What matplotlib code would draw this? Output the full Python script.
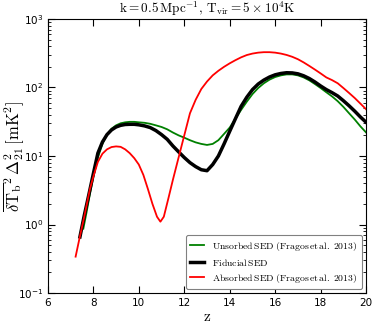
import matplotlib
matplotlib.use("Agg")
import matplotlib.pyplot as plt
from matplotlib.ticker import LogLocator, FixedLocator, NullLocator

plt.rcParams['mathtext.fontset'] = 'dejavusans'

# Fiducial SED (black)
z_fid = [7.41, 7.6, 7.8, 8.0, 8.2, 8.4, 8.6, 8.8, 9.0, 9.2, 9.4, 9.6, 9.8, 10.0,
         10.25, 10.5, 10.75, 11.0, 11.25, 11.5, 11.75, 12.0, 12.25, 12.5, 12.75,
         13.0, 13.25, 13.5, 13.75, 14.0, 14.25, 14.5, 14.75, 15.0, 15.25, 15.5,
         15.75, 16.0, 16.25, 16.5, 16.75, 17.0, 17.25, 17.5, 17.75, 18.0, 18.25,
         18.5, 18.75, 19.0, 19.25, 19.5, 19.75, 20.0]
p_fid = [0.66, 1.35, 2.7, 5.5, 11.0, 16.0, 20.5, 24.0, 26.5, 28.0, 28.8, 29.0, 29.0, 28.5,
         27.5, 26.0, 23.5, 20.5, 17.5, 14.0, 11.5, 9.5, 8.0, 7.0, 6.3,
         6.1, 7.5, 10.0, 15.0, 23.0, 35.0, 53.0, 72.0, 93.0, 112.0, 128.0,
         142.0, 153.0, 160.0, 164.0, 163.0, 158.0, 148.0, 135.0, 120.0, 105.0, 93.0,
         84.0, 75.0, 64.0, 54.0, 45.0, 37.0, 31.0]

# Unsorbed SED (green)
z_uns = [7.56, 7.7, 7.85, 8.0, 8.2, 8.4, 8.6, 8.8, 9.0, 9.2, 9.4, 9.6, 9.8, 10.0,
         10.25, 10.5, 10.75, 11.0, 11.25, 11.5, 11.75, 12.0, 12.25, 12.5, 12.75,
         13.0, 13.25, 13.5, 13.75, 14.0, 14.25, 14.5, 14.75, 15.0, 15.25, 15.5,
         15.75, 16.0, 16.25, 16.5, 16.75, 17.0, 17.25, 17.5, 17.75, 18.0, 18.25,
         18.5, 18.75, 19.0, 19.25, 19.5, 19.75, 20.0]
p_uns = [0.87, 1.5, 2.8, 5.0, 9.5, 15.0, 20.5, 25.0, 28.0, 30.0, 31.0, 31.5, 31.5, 31.0,
         30.5, 29.5, 28.0, 26.5, 24.5, 22.0, 20.0, 18.5, 17.0, 15.8, 15.0,
         14.5, 15.0, 17.0, 21.0, 26.0, 35.0, 47.0, 62.0, 80.0, 98.0, 115.0,
         130.0, 142.0, 150.0, 155.0, 155.0, 150.0, 140.0, 127.0, 112.0, 98.0, 85.0,
         74.0, 63.0, 52.0, 42.0, 34.0, 27.0, 22.0]

# Absorbed SED (red)
z_abs = [7.22, 7.4, 7.6, 7.85, 8.0, 8.2, 8.4, 8.6, 8.8, 9.0, 9.2, 9.4, 9.6, 9.8, 10.0,
         10.2, 10.4, 10.6, 10.8, 10.95, 11.1, 11.3, 11.5, 11.75, 12.0, 12.25, 12.5,
         12.75, 13.0, 13.25, 13.5, 13.75, 14.0, 14.25, 14.5, 14.75, 15.0, 15.25,
         15.5, 15.75, 16.0, 16.25, 16.5, 16.75, 17.0, 17.25, 17.5, 17.75, 18.0,
         18.25, 18.5, 18.75, 19.0, 19.25, 19.5, 19.75, 20.0]
p_abs = [0.34, 0.65, 1.3, 3.3, 5.0, 8.2, 10.8, 12.5, 13.5, 13.8, 13.6, 12.5, 11.0, 9.3, 7.5,
         5.3, 3.3, 2.0, 1.3, 1.1, 1.3, 2.4, 4.5, 9.5, 20.0, 42.0, 66.0,
         95.0, 122.0, 150.0, 175.0, 200.0, 225.0, 250.0, 275.0, 297.0, 312.0, 322.0,
         327.0, 327.0, 322.0, 312.0, 298.0, 280.0, 258.0, 232.0, 206.0, 182.0, 160.0,
         140.0, 128.0, 115.0, 98.0, 83.0, 70.0, 58.0, 48.0]

labels = [r'$\mathrm{Unsorbed\,SED\;(Fragos\,et\,al.\;2013)}$',
          r'$\mathrm{Fiducial\,SED}$',
          r'$\mathrm{Absorbed\,SED\;(Fragos\,et\,al.\;2013)}$']
x_ticks = [6, 8, 10, 12, 14, 16, 18, 20]

fig = plt.figure(figsize=(3.74, 3.26), dpi=100)
ax = fig.add_axes([0.128, 0.101, 0.851, 0.841])

ax.plot(z_uns, p_uns, color='green', lw=1.3, label=labels[0])
ax.plot(z_fid, p_fid, color='black', lw=2.5, label=labels[1])
ax.plot(z_abs, p_abs, color='red', lw=1.3, label=labels[2])

ax.set_yscale('log')
ax.set_xlim(6, 20)
ax.set_ylim(0.1, 1000)
ax.xaxis.set_major_locator(FixedLocator(x_ticks))
ax.xaxis.set_minor_locator(NullLocator())
ax.yaxis.set_major_locator(LogLocator(base=10, numticks=10))
ax.yaxis.set_minor_locator(LogLocator(base=10, subs=range(2, 10), numticks=20))
ax.tick_params(which='both', direction='in', top=True, right=True, labelsize=7.5)
ax.tick_params(which='major', length=5, width=0.8)
ax.tick_params(which='minor', length=2.5, width=0.6)
for s in ax.spines.values():
    s.set_linewidth(0.8)

t = ax.set_title(r'$\mathrm{k=0.5\,Mpc^{-1},\,T_{vir}=5\times10^4K}$', fontsize=9.5, pad=4)
t.set_math_fontfamily('cm')
xl = ax.set_xlabel(r'$\mathrm{z}$', fontsize=11, labelpad=1)
xl.set_math_fontfamily('cm')
yl = ax.set_ylabel(r'$\overline{\delta \mathrm{T}_\mathrm{b}}^2\,\Delta^2_{21}\,[\mathrm{mK}^2]$',
                   fontsize=12)
yl.set_math_fontfamily('cm')
ax.yaxis.set_label_coords(-0.07, 0.5)

leg = ax.legend(loc='lower right', fontsize=7.0, handlelength=1.4, borderpad=0.45,
                labelspacing=0.42, handletextpad=0.9, framealpha=1, edgecolor='0.5',
                fancybox=True, borderaxespad=0.4)
leg.get_frame().set_linewidth(0.8)
for tx in leg.get_texts():
    tx.set_math_fontfamily('cm')

fig.savefig('out.png', dpi=100)
